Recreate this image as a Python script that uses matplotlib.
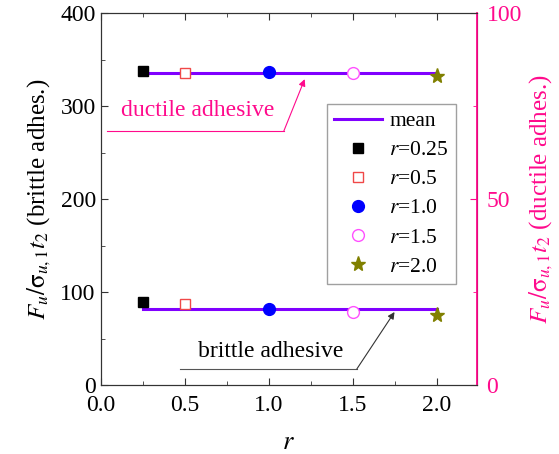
import numpy as np
import matplotlib
matplotlib.use("Agg")
import matplotlib.pyplot as plt
from matplotlib.ticker import MultipleLocator

plt.rcParams['font.family'] = ['Liberation Serif', 'DejaVu Serif']
plt.rcParams['mathtext.fontset'] = 'stix'

# values
r = [0.25, 0.5, 1.0, 1.5, 2.0]
labels = ['$r$=0.25', '$r$=0.5', '$r$=1.0', '$r$=1.5', '$r$=2.0']
brittle = [89, 87, 82, 78, 75]          # left axis
ductile = [84.5, 84.0, 84.2, 84.0, 83.0]  # right axis

pink = '#FF0A8C'
styles = [
    dict(marker='s', mfc='black', mec='black', ms=7.5),
    dict(marker='s', mfc='white', mec='#F04848', ms=7.5, mew=1.0),
    dict(marker='o', mfc='#0000FF', mec='#0000FF', ms=8.5),
    dict(marker='o', mfc='white', mec='#FF50FF', ms=8.5, mew=1.0),
    dict(marker='*', mfc='#808000', mec='#808000', ms=11),
]

fig = plt.figure(figsize=(5.59, 4.54), dpi=100)
ax = fig.add_axes([0.180, 0.152, 0.673, 0.819])
ax2 = ax.twinx()

mean_b = np.mean(brittle)
mean_d = np.mean(ductile)
line, = ax.plot([r[0], r[-1]], [mean_b, mean_b], color='#8000FF', lw=2.2, zorder=2)
ax2.plot([r[0], r[-1]], [mean_d, mean_d], color='#8000FF', lw=2.2, zorder=2)

handles = [line]
for i in range(len(r)):
    h, = ax.plot(r[i], brittle[i], ls='none', zorder=3, **styles[i])
    ax2.plot(r[i], ductile[i], ls='none', zorder=3, **styles[i])
    handles.append(h)

ax.set_xlim(0, 2.24)
ax.set_ylim(0, 400)
ax2.set_ylim(0, 100)

ax.xaxis.set_major_locator(MultipleLocator(0.5))
ax.xaxis.set_minor_locator(MultipleLocator(0.25))
ax.yaxis.set_major_locator(MultipleLocator(100))
ax.yaxis.set_minor_locator(MultipleLocator(50))
ax2.yaxis.set_major_locator(MultipleLocator(50))
ax2.yaxis.set_minor_locator(MultipleLocator(25))

ax.tick_params(which='both', direction='in', top=True, labelsize=17, color='#333333')
ax.tick_params(axis='x', pad=7)
ax.tick_params(which='major', length=5)
ax.tick_params(which='minor', length=3)
ax2.tick_params(which='both', direction='in', colors=pink, labelsize=17)
ax2.tick_params(which='major', length=5, pad=7)
ax2.tick_params(which='minor', length=3)
for s in ['left', 'top', 'bottom']:
    ax.spines[s].set_color('#333333')
    ax2.spines[s].set_color('#333333')
ax2.spines['right'].set_color(pink)
ax2.spines['right'].set_linewidth(1.3)

ax.set_xlabel('$r$', fontsize=19, labelpad=12)
ax.set_ylabel('$F_u/\\mathrm{\\sigma}_{u,1}t_2$ (brittle adhes.)', fontsize=18, labelpad=5)
ax2.set_ylabel('$F_u/\\mathrm{\\sigma}_{u,1}t_2$ (ductile adhes.)', fontsize=18,
               color=pink, labelpad=4)

leg = ax.legend(handles, ['mean'] + labels, loc='upper left',
                bbox_to_anchor=(0.601, 0.757), fontsize=15.5, frameon=True,
                fancybox=False, edgecolor='#888888', handlelength=2.2,
                borderpad=0.35, labelspacing=0.42, handletextpad=0.35, borderaxespad=0)
leg.get_frame().set_linewidth(1.0)
leg.set_zorder(5)

# ductile adhesive label
ax.text(0.257, 0.737, 'ductile adhesive', color=pink, fontsize=17,
        ha='center', va='center', transform=ax.transAxes)
ax.plot([0.017, 0.487], [0.683, 0.683], color=pink, lw=0.8, transform=ax.transAxes)
ax.annotate('', xy=(1.215, 329), xycoords='data',
            xytext=(0.487, 0.683), textcoords='axes fraction',
            arrowprops=dict(arrowstyle='-|>', color=pink, lw=0.8,
                            mutation_scale=10, shrinkA=0, shrinkB=0))

# brittle adhesive label
ax.text(0.453, 0.091, 'brittle adhesive', color='black', fontsize=17,
        ha='center', va='center', transform=ax.transAxes)
ax.plot([0.211, 0.681], [0.043, 0.043], color='#555555', lw=0.8, transform=ax.transAxes)
ax.annotate('', xy=(1.75, 78.5), xycoords='data',
            xytext=(0.681, 0.043), textcoords='axes fraction',
            arrowprops=dict(arrowstyle='-|>', color='#333333', lw=0.8,
                            mutation_scale=10, shrinkA=0, shrinkB=0))

fig.savefig('out.png', dpi=100)
